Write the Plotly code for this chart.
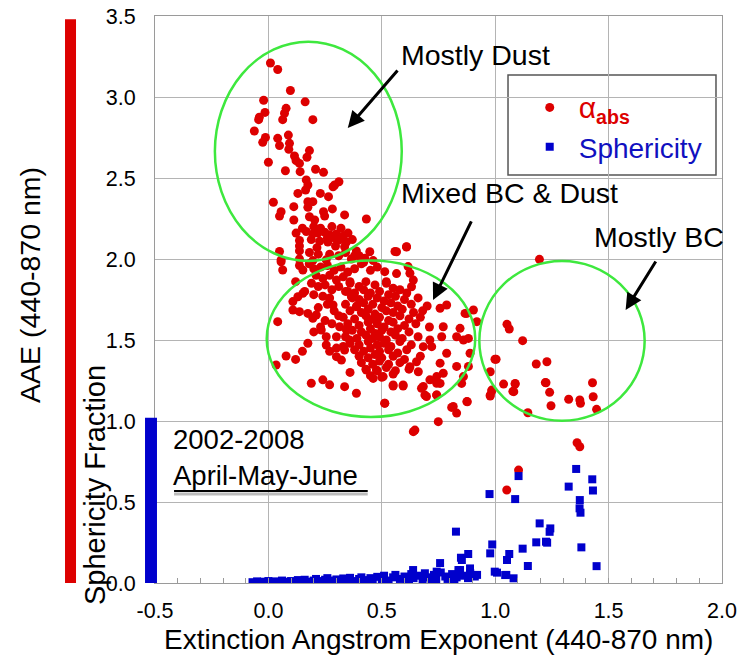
import plotly.graph_objects as go

# ---------------- data ----------------
# alpha_abs (AAE) points, grouped by region
dust_x = [0.009, 0.041, 0.097, -0.021, 0.162, 0.078, 0.071, -0.015, -0.04, -0.043, 0.063, 0.196,
          -0.062, -0.013, -0.025, 0.041, 0.049, 0.088, 0.093, 0.09, 0.181, 0.17, 0.115, 0.122, 0.137,
          0.0, 0.075, 0.14, 0.208, 0.243, 0.167, 0.174, 0.164, 0.292, 0.311, 0.285, 0.13, 0.229, 0.265,
          0.022, 0.112, 0.174, 0.196, 0.174, 0.282, 0.056, 0.049, 0.243, 0.248, 0.336, 0.181, 0.204,
          0.112, 0.432, 0.2, 0.23, 0.28, 0.32, 0.15]
dust_y = [3.21, 3.17, 3.04, 2.98, 2.97, 2.93, 2.90, 2.905, 2.875, 2.86, 2.86, 2.86,
          2.79, 2.75, 2.72, 2.745, 2.70, 2.765, 2.714, 2.677, 2.669, 2.628, 2.636, 2.607, 2.59,
          2.597, 2.545, 2.539, 2.554, 2.535, 2.488, 2.457, 2.426, 2.457, 2.477, 2.446, 2.405, 2.405, 2.385,
          2.35, 2.323, 2.354, 2.354, 2.319, 2.309, 2.292, 2.265, 2.292, 2.265, 2.272, 2.261, 2.241,
          2.241, 2.247, 2.2, 2.19, 2.2, 2.19, 2.19]

band_x = [0.122, 0.167, 0.196, 0.218, 0.248, 0.27, 0.3, 0.351, 0.137, 0.189, 0.226, 0.262, 0.314, 0.344,
          0.137, 0.214, 0.296, 0.336, 0.049, 0.137, 0.181, 0.388, 0.447, 0.558, 0.609, 0.056, 0.137,
          0.196, 0.255, 0.366, 0.425, 0.462, 0.26, 0.29, 0.33, 0.37, 0.22, 0.27, 0.31, 0.34, 0.4,
          0.38, 0.42]
band_y = [2.16, 2.17, 2.155, 2.16, 2.165, 2.15, 2.155, 2.16, 2.114, 2.12, 2.11, 2.105, 2.118, 2.105,
          2.08, 2.07, 2.08, 2.075, 2.046, 2.05, 2.04, 2.05, 2.045, 2.046, 2.074, 1.994, 2.0,
          1.99, 1.995, 2.0, 2.005, 1.99, 2.13, 2.13, 2.14, 2.12, 2.03, 2.03, 2.02, 2.04, 2.02,
          2.02, 1.98]

mixed_x = [0.18, 0.2, 0.23, 0.26, 0.29, 0.32, 0.35, 0.38, 0.21, 0.24, 0.27, 0.3, 0.33, 0.36,
           0.19, 0.22, 0.25, 0.28, 0.31, 0.34, 0.2, 0.24, 0.27, 0.16, 0.12, 0.056, 0.063, 0.137, 0.152,
           0.565, 0.609, 0.616, 0.624, 0.639, 0.631, 0.513, 0.52, 0.565, 0.41, 0.45, 0.48,
           0.041, 0.078, 0.034, 0.108, 0.137, 0.108, 0.174, 0.196, 0.211, 0.13, 0.152, 0.174, 0.189,
           0.24, 0.27, 0.336, 0.388, 0.255, 0.255, 0.3, 0.3, 0.322, 0.2, 0.23, 0.25, 0.28, 0.22, 0.26,
           0.29, 0.31, 0.27, 0.3, 0.33, 0.15, 0.12, 0.36,
           0.233, 0.285, 0.314, 0.344, 0.358, 0.336, 0.366, 0.388, 0.432, 0.476, 0.462, 0.506, 0.55,
           0.594, 0.653, 0.661, 0.624, 0.683, 0.712, 0.72]
mixed_y = [1.97, 1.94, 1.95, 1.96, 1.93, 1.95, 1.92, 1.94, 1.9, 1.88, 1.9, 1.87, 1.89, 1.86,
           1.85, 1.83, 1.84, 1.81, 1.83, 1.8, 1.78, 1.77, 1.76, 1.8, 1.86, 1.983, 1.932, 1.96, 1.932,
           2.045, 2.076, 1.953, 1.912, 1.87, 1.829, 1.922, 1.86, 1.91, 1.97, 1.93, 1.95,
           1.613, 1.401, 1.346, 1.737, 1.675, 1.685, 1.664, 1.634, 1.654, 1.767, 1.788, 1.48, 1.233,
           1.254, 1.223, 1.212, 1.171, 1.52, 1.469, 1.52, 1.397, 1.376, 1.55, 1.58, 1.62, 1.6, 1.7, 1.72,
           1.68, 1.65, 1.43, 1.45, 1.46, 1.43, 1.38, 1.3,
           1.562, 1.716, 1.582, 1.562, 1.5, 1.438, 1.767, 1.705, 1.315, 1.315, 1.263, 1.274, 1.222,
           1.222, 1.366, 1.304, 1.335, 1.459, 1.5, 1.459]

core_x = [0.36, 0.40, 0.43, 0.47, 0.52, 0.55,
          0.35, 0.38, 0.42, 0.45, 0.49, 0.53, 0.58, 0.61,
          0.37, 0.40, 0.44, 0.48, 0.51, 0.56, 0.60, 0.66,
          0.34, 0.39, 0.42, 0.46, 0.50, 0.54, 0.57, 0.63, 0.70,
          0.36, 0.41, 0.44, 0.47, 0.52, 0.55, 0.59, 0.64, 0.68,
          0.33, 0.38, 0.43, 0.46, 0.49, 0.53, 0.58, 0.62, 0.67,
          0.35, 0.40, 0.44, 0.48, 0.51, 0.55, 0.60, 0.65, 0.71,
          0.37, 0.41, 0.45, 0.47, 0.50, 0.54, 0.57, 0.62,
          0.34, 0.39, 0.43, 0.46, 0.49, 0.52, 0.56, 0.59, 0.66,
          0.36, 0.40, 0.44, 0.48, 0.51, 0.54, 0.58, 0.63,
          0.38, 0.42, 0.45, 0.49, 0.53, 0.57, 0.61,
          0.40, 0.44, 0.47, 0.50, 0.55, 0.60, 0.67,
          0.41, 0.46, 0.49, 0.53, 0.58,
          0.43, 0.48, 0.52, 0.56, 0.62,
          0.45, 0.50, 0.55]
core_y = [1.85, 1.83, 1.86, 1.84, 1.85, 1.82,
          1.80, 1.79, 1.81, 1.79, 1.80, 1.78, 1.81, 1.79,
          1.76, 1.75, 1.77, 1.76, 1.74, 1.77, 1.75, 1.76,
          1.72, 1.71, 1.73, 1.72, 1.70, 1.73, 1.71, 1.72, 1.71,
          1.68, 1.67, 1.69, 1.66, 1.68, 1.67, 1.69, 1.67, 1.68,
          1.64, 1.63, 1.65, 1.63, 1.64, 1.62, 1.65, 1.63, 1.64,
          1.60, 1.59, 1.61, 1.60, 1.58, 1.61, 1.59, 1.60, 1.58,
          1.56, 1.55, 1.57, 1.54, 1.56, 1.55, 1.57, 1.55,
          1.52, 1.51, 1.53, 1.51, 1.52, 1.50, 1.53, 1.51, 1.52,
          1.48, 1.47, 1.49, 1.47, 1.48, 1.46, 1.49, 1.47,
          1.44, 1.43, 1.45, 1.43, 1.44, 1.42, 1.44,
          1.40, 1.39, 1.41, 1.39, 1.40, 1.38, 1.40,
          1.36, 1.35, 1.37, 1.35, 1.36,
          1.32, 1.31, 1.33, 1.31, 1.32,
          1.28, 1.27, 1.29]

right_x = [0.757, 0.786, 0.771, 0.764, 0.786, 0.845, 0.83, 0.86, 0.882, 0.875, 0.904, 0.919, 0.889,
           0.83, 0.86, 0.882, 0.757, 0.771, 0.742, 0.712, 0.742, 0.683, 0.697, 0.742, 0.815, 0.83,
           0.749, 0.646, 0.513, 0.875, 0.999, 0.55, 0.594, 0.513, 0.675, 0.69, 0.742, 0.757, 0.852,
           0.877, 0.808, 0.639, 0.978, 0.985, 0.867]
right_y = [1.696, 1.716, 1.582, 1.52, 1.418, 1.572, 1.52, 1.5, 1.51, 1.664, 1.685, 1.613, 1.418,
           1.337, 1.274, 1.337, 1.357, 1.295, 1.274, 1.254, 1.233, 1.213, 1.151, 1.161, 1.09, 1.049,
           0.996, 0.944, 1.11, 1.12, 1.381, 1.216, 1.216, 1.109, 1.202, 1.16, 1.16, 1.232, 1.232,
           1.119, 1.084, 0.934, 1.16, 1.191, 1.664]

bc_x = [1.195, 1.052, 1.062, 1.121, 1.004, 1.181, 1.228, 0.978, 1.037, 1.088, 1.078, 0.985, 0.978,
        1.224, 1.24, 1.246, 1.324, 1.373, 1.376, 1.429, 1.432, 1.447, 1.144, 1.082, 1.088, 1.221,
        1.103, 1.051, 1.361, 1.373]
bc_y = [1.998, 1.597, 1.568, 1.496, 1.381, 1.352, 1.366, 1.304, 1.228, 1.232, 1.183, 1.185, 1.154,
        1.236, 1.177, 1.094, 1.134, 1.13, 1.109, 1.236, 1.15, 1.072, 1.051, 1.181, 1.228, 1.237,
        0.697, 0.574, 0.866, 0.841]

# sphericity fraction points
sph_x = [-0.07, -0.05, -0.04, -0.02, 0.0, 0.01, 0.03, 0.05, 0.06, 0.08, 0.10, 0.11, 0.13, 0.15, 0.16,
         0.18, 0.20, 0.21, 0.23, 0.25, 0.26, 0.28, 0.30, 0.31, 0.33, 0.35, 0.36, 0.38, 0.40, 0.41,
         0.43, 0.45, 0.46, 0.48, 0.50, 0.51, 0.53, 0.55, 0.56, 0.58, 0.60, 0.61, 0.63, 0.64, 0.66,
         0.68, 0.69, 0.71, 0.73, 0.74, 0.76, 0.78, 0.79, 0.81, 0.83, 0.84, 0.86, 0.88, 0.89, 0.91, 0.92,
         0.02, 0.12, 0.22, 0.32, 0.42, 0.52, 0.62, 0.72, 0.82,
         0.638, 0.742, 0.845, 0.889, 0.757, 0.838, 0.849, 0.881, 0.827, 0.853,
         0.975, 1.103, 1.088, 1.357, 1.428, 1.431, 1.324, 1.373, 1.372, 1.376, 1.38, 1.447,
         1.196, 1.243, 1.24, 1.181, 1.224, 1.229, 1.121, 1.144, 0.987, 0.978, 1.062, 1.052,
         1.008, 1.049, 1.081, 0.998, 1.044]
sph_y = [0.005, 0.01, 0.003, 0.008, 0.012, 0.004, 0.01, 0.006, 0.015, 0.008, 0.012, 0.004, 0.018, 0.01, 0.02,
         0.008, 0.015, 0.025, 0.012, 0.02, 0.03, 0.015, 0.022, 0.01, 0.028, 0.018, 0.032, 0.012, 0.025, 0.035,
         0.018, 0.03, 0.012, 0.038, 0.022, 0.045, 0.015, 0.035, 0.05, 0.025, 0.04, 0.015, 0.055, 0.03, 0.045,
         0.02, 0.06, 0.035, 0.05, 0.02, 0.065, 0.04, 0.025, 0.055, 0.035, 0.07, 0.045, 0.03, 0.06, 0.04, 0.05,
         0.0, 0.0, 0.005, 0.005, 0.008, 0.005, 0.008, 0.01, 0.012,
         0.08, 0.07, 0.08, 0.09, 0.123, 0.08, 0.156, 0.179, 0.317, 0.142,
         0.549, 0.66, 0.518, 0.704, 0.64, 0.571, 0.595, 0.512, 0.461, 0.434, 0.22, 0.104,
         0.368, 0.337, 0.316, 0.251, 0.255, 0.249, 0.212, 0.105, 0.238, 0.183, 0.179, 0.142,
         0.064, 0.05, 0.029, 0.07, 0.049]

x_ticks = [-0.5, 0.0, 0.5, 1.0, 1.5, 2.0]
x_ticktext = ["-0.5", "0.0", "0.5", "1.0", "1.5", "2.0"]
y_ticks = [0.0, 0.5, 1.0, 1.5, 2.0, 2.5, 3.0, 3.5]
y_ticktext = ["0.0", "0.5", "1.0", "1.5", "2.0", "2.5", "3.0", "3.5"]

# ---------------- figure ----------------
RED = "#dd0000"
BLUE = "#0000cc"
GREEN = "#3ee83e"
FONT = "Arial, 'Liberation Sans', sans-serif"

aae_x = dust_x + band_x + mixed_x + core_x + right_x + bc_x
aae_y = dust_y + band_y + mixed_y + core_y + right_y + bc_y

fig = go.Figure()
fig.add_trace(go.Scatter(
    x=aae_x, y=aae_y, mode="markers",
    name="<span style='color:#dd0000;font-size:30px'>α</span><span style='color:#dd0000'><sub><b>abs</b></sub></span>",
    marker=dict(symbol="circle", size=9, color=RED, line=dict(width=0)),
))
fig.add_trace(go.Scatter(
    x=sph_x, y=sph_y, mode="markers",
    name="<span style='color:#1010c0'>Sphericity</span>",
    marker=dict(symbol="square", size=8, color=BLUE, line=dict(width=0)),
))

shapes = []
# legend frame
shapes.append(dict(type="rect", xref="paper", yref="paper", x0=0.6226, x1=0.9894, y0=0.7196, y1=0.896,
                   line=dict(color="#555555", width=1.5), fillcolor="white", layer="between"))
# green circles
for (x0, x1, y0, y1) in [(-0.236, 0.588, 1.988, 3.341), (-0.0075, 0.912, 1.025, 1.99), (0.93, 1.659, 1.002, 1.988)]:
    shapes.append(dict(type="circle", xref="x", yref="y", x0=x0, x1=x1, y0=y0, y1=y1,
                       line=dict(color=GREEN, width=2.5), layer="above"))
# colored axis bars
shapes.append(dict(type="rect", xref="paper", yref="y", x0=-0.1587, x1=-0.1393, y0=-0.03, y1=3.48,
                   line=dict(width=0), fillcolor=RED, layer="above"))
shapes.append(dict(type="rect", xref="paper", yref="y", x0=-0.0176, x1=0.0035, y0=-0.02, y1=1.02,
                   line=dict(width=0), fillcolor=BLUE, layer="above"))
# underline of "April-May-June"
shapes.append(dict(type="line", xref="x", yref="y", x0=-0.416, x1=0.438, y0=0.55, y1=0.55,
                   line=dict(color="#bbbbbb", width=3), layer="above"))
shapes.append(dict(type="line", xref="x", yref="y", x0=-0.416, x1=0.438, y0=0.568, y1=0.568,
                   line=dict(color="black", width=2), layer="above"))

annotations = []
# region labels
for txt, x, y in [("Mostly Dust", 0.575, 3.259), ("Mixed BC & Dust", 0.575, 2.407), ("Mostly BC", 1.425, 2.136)]:
    annotations.append(dict(text=txt, x=x, y=y, xref="x", yref="y", showarrow=False,
                            xanchor="left", yanchor="middle", font=dict(size=28.5, color="black", family=FONT)))
# arrows
for hx, hy, tx, ty in [(0.35, 2.809, 0.575, 3.173), (0.726, 1.747, 0.898, 2.241), (1.575, 1.685, 1.712, 1.994)]:
    annotations.append(dict(text="", x=hx, y=hy, ax=tx, ay=ty, xref="x", yref="y", axref="x", ayref="y",
                            showarrow=True, arrowhead=2, arrowsize=1.1, arrowwidth=3, arrowcolor="black"))
# period label
annotations.append(dict(text="2002-2008<br>April-May-June", x=-0.43, y=0.772, xref="x", yref="y",
                        showarrow=False, xanchor="left", yanchor="middle", align="left",
                        font=dict(size=27.5, color="black", family=FONT)))
# axis titles
annotations.append(dict(text="Extinction Angstrom Exponent (440-870 nm)", x=0.5, y=-0.1,
                        xref="paper", yref="paper", showarrow=False, xanchor="center", yanchor="middle",
                        font=dict(size=28, color="black", family=FONT)))
annotations.append(dict(text="AAE (440-870 nm)", x=-0.2205, y=0.5256, textangle=-90,
                        xref="paper", yref="paper", showarrow=False, xanchor="center", yanchor="middle",
                        font=dict(size=28.5, color="black", family=FONT)))
annotations.append(dict(text="Sphericity Fraction", x=-0.1058, y=0.1728, textangle=-90,
                        xref="paper", yref="paper", showarrow=False, xanchor="center", yanchor="middle",
                        font=dict(size=29, color="black", family=FONT)))

fig.update_layout(
    width=741, height=661,
    margin=dict(l=155, r=19, t=16, b=78, autoexpand=False),
    paper_bgcolor="white", plot_bgcolor="white",
    font=dict(family=FONT, size=21, color="black"),
    showlegend=True,
    legend=dict(x=0.645, y=0.8824, xanchor="left", yanchor="top", bgcolor="rgba(0,0,0,0)",
                borderwidth=0, font=dict(size=28, family=FONT), tracegroupgap=0, itemwidth=48),
    shapes=shapes,
    annotations=annotations,
)
fig.update_xaxes(
    range=[-0.5, 2.0], tickvals=x_ticks, ticktext=x_ticktext, automargin=False,
    showgrid=True, gridcolor="#b4b4b4", gridwidth=1, zeroline=False,
    showline=True, linecolor="#9a9a9a", linewidth=1, mirror=True,
    ticks="inside", ticklen=5, tickcolor="#9a9a9a", ticklabelstandoff=8,
    minor=dict(dtick=0.1, tick0=0, ticks="inside", ticklen=5, tickcolor="#9a9a9a", showgrid=False),
    tickfont=dict(size=21.5, color="black", family=FONT),
)
fig.update_yaxes(
    range=[0, 3.5], tickvals=y_ticks, ticktext=y_ticktext, automargin=False,
    showgrid=True, gridcolor="#b4b4b4", gridwidth=1, zeroline=False,
    showline=True, linecolor="#9a9a9a", linewidth=1, mirror=True,
    ticks="", ticklabelstandoff=14,
    tickfont=dict(size=21.5, color="black", family=FONT),
)

fig.write_html("out.html")
